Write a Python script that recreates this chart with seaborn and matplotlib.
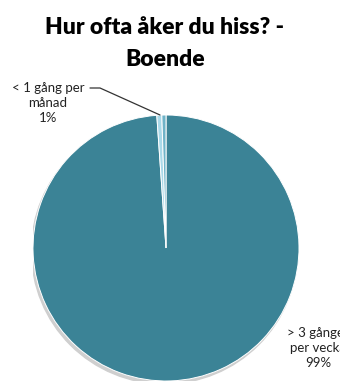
import matplotlib
matplotlib.use('Agg')
import matplotlib.pyplot as plt
import seaborn as sns
from matplotlib.patches import Circle

# data
categories = ['> 3 gånger\nper vecka', '< 1 gång per\nmånad', 'övrigt']
shares = [98.9, 0.6, 0.5]
colors = ['#3b8396', '#a9d9e9', '#6fb3c8']

sns.set_theme(style='white')
plt.rcParams['font.family'] = ['Lato', 'DejaVu Sans']

fig = plt.figure(figsize=(3.4, 3.86), dpi=100)
fig.patch.set_facecolor('white')

# pie centre at (166, 248) px from top, radius 133 px
cx, cy, r = 166, 248, 133
W, H = 340, 386
ax = fig.add_axes([(cx - r) / W, (H - cy - r) / H, 2 * r / W, 2 * r / H])

# soft shadow
ax.add_patch(Circle((-0.012, -0.022), 1.0, color='#cfcfcf', zorder=0))

ax.pie(shares, colors=colors, startangle=90, counterclock=False,
       wedgeprops=dict(edgecolor='white', linewidth=0.7), radius=1.0)
ax.set_xlim(-1, 1)
ax.set_ylim(-1, 1)
ax.set_aspect('equal')
ax.axis('off')


def px(x, y):
    return ((x - cx) / r, (cy - y) / r)


total = sum(shares)
big_pct = f'{round(shares[0] / total * 100)}%'
small_pct = f'{max(1, round(shares[1] / total * 100))}%'

ax.text(*px(318, 348), f'{categories[0]}\n{big_pct}', ha='center', va='center',
        fontsize=9.5, color='#222222', linespacing=1.3, clip_on=False)
ax.text(*px(48, 103), f'{categories[1]}\n{small_pct}', ha='center', va='center',
        fontsize=9.5, color='#222222', linespacing=1.3, clip_on=False)

# leader line
lx, ly = zip(px(90, 88), px(100, 88), px(160, 115))
ax.plot(lx, ly, color='#333333', linewidth=0.9, clip_on=False)

fig.text(165 / W, 1 - 27 / H, 'Hur ofta åker du hiss? -', ha='center', va='center',
         fontsize=16.5, fontweight='heavy', color='black')
fig.text(165 / W, 1 - 60 / H, 'Boende', ha='center', va='center',
         fontsize=16.5, fontweight='heavy', color='black')

fig.savefig('out.png', dpi=100)
